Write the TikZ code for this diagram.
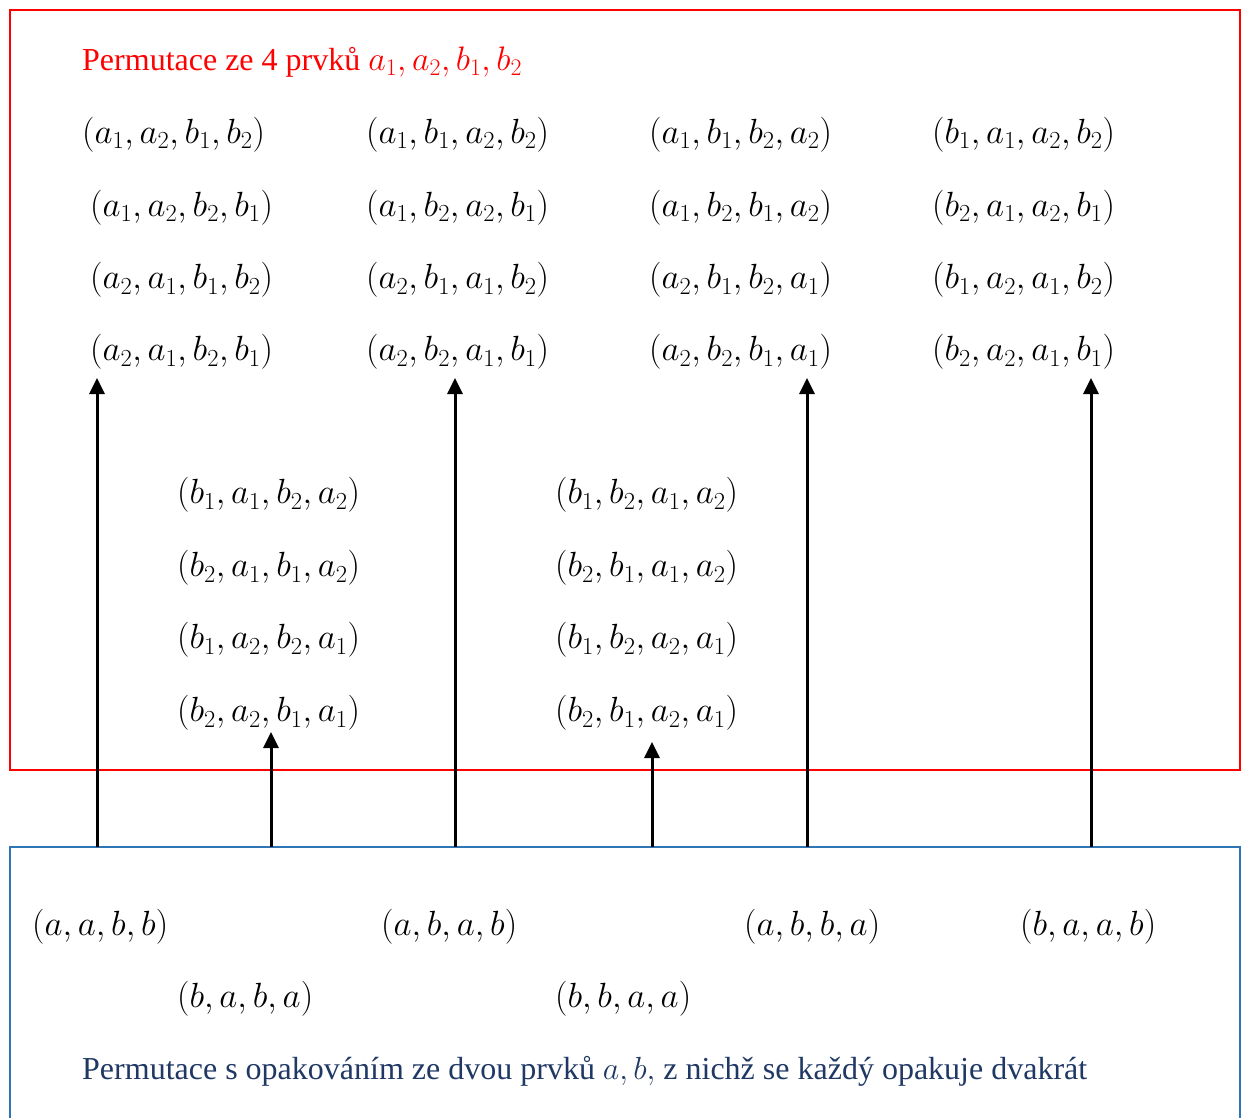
\RequirePackage{fix-cm}
\documentclass[tikz,border=0pt]{standalone}
\usepackage{fontspec}
\setmainfont{Liberation Serif}
\usetikzlibrary{arrows.meta}
\definecolor{boxblue}{HTML}{2E75B6}
\definecolor{txtblue}{HTML}{1F3864}
\tikzset{
  perm/.style={anchor=west, inner sep=0pt, font=\fontsize{35}{40}\selectfont},
  lbl/.style={anchor=west, inner sep=0pt, font=\fontsize{32}{38}\selectfont},
  arr/.style={line width=3pt, -{Triangle[width=15pt,length=16pt]}},
}
\begin{document}
\begin{tikzpicture}[x=1pt,y=-1pt]
\useasboundingbox (0,0) rectangle (1246,1118);
% boxes
\draw[red, line width=2pt] (10,10) rectangle (1240,770);
\draw[boxblue, line width=2pt] (10,1118) -- (10,847) -- (1240,847) -- (1240,1118);
% title
\node[lbl, text=red] (title) at (82,62) {Permutace ze 4 prvků {\fontsize{34}{38}\selectfont$a_1, a_2, b_1, b_2$}};
% top grid
\node[perm] (r1c1) at (82,135) {$(a_1, a_2, b_1, b_2)$};
\node[perm] (r1c2) at (366,135) {$(a_1, b_1, a_2, b_2)$};
\node[perm] (r1c3) at (649,135) {$(a_1, b_1, b_2, a_2)$};
\node[perm] (r1c4) at (932,135) {$(b_1, a_1, a_2, b_2)$};
\node[perm] (r2c1) at (90,208) {$(a_1, a_2, b_2, b_1)$};
\node[perm] (r2c2) at (366,208) {$(a_1, b_2, a_2, b_1)$};
\node[perm] (r2c3) at (649,208) {$(a_1, b_2, b_1, a_2)$};
\node[perm] (r2c4) at (932,208) {$(b_2, a_1, a_2, b_1)$};
\node[perm] (r3c1) at (90,280) {$(a_2, a_1, b_1, b_2)$};
\node[perm] (r3c2) at (366,280) {$(a_2, b_1, a_1, b_2)$};
\node[perm] (r3c3) at (649,280) {$(a_2, b_1, b_2, a_1)$};
\node[perm] (r3c4) at (932,280) {$(b_1, a_2, a_1, b_2)$};
\node[perm] (r4c1) at (90,352) {$(a_2, a_1, b_2, b_1)$};
\node[perm] (r4c2) at (366,352) {$(a_2, b_2, a_1, b_1)$};
\node[perm] (r4c3) at (649,352) {$(a_2, b_2, b_1, a_1)$};
\node[perm] (r4c4) at (932,352) {$(b_2, a_2, a_1, b_1)$};
% middle grid
\node[perm] (m1c1) at (177,495) {$(b_1, a_1, b_2, a_2)$};
\node[perm] (m1c2) at (555,495) {$(b_1, b_2, a_1, a_2)$};
\node[perm] (m2c1) at (177,568) {$(b_2, a_1, b_1, a_2)$};
\node[perm] (m2c2) at (555,568) {$(b_2, b_1, a_1, a_2)$};
\node[perm] (m3c1) at (177,640) {$(b_1, a_2, b_2, a_1)$};
\node[perm] (m3c2) at (555,640) {$(b_1, b_2, a_2, a_1)$};
\node[perm] (m4c1) at (177,713) {$(b_2, a_2, b_1, a_1)$};
\node[perm] (m4c2) at (555,713) {$(b_2, b_1, a_2, a_1)$};
% bottom
\node[perm] (p1) at (32,927) {$(a, a, b, b)$};
\node[perm] (p2) at (381,927) {$(a, b, a, b)$};
\node[perm] (p3) at (744,927) {$(a, b, b, a)$};
\node[perm] (p4) at (1020,927) {$(b, a, a, b)$};
\node[perm] (p5) at (177,999) {$(b, a, b, a)$};
\node[perm] (p6) at (555,999) {$(b, b, a, a)$};
\node[lbl, text=txtblue] (sub) at (82,1071) {Permutace s opakováním ze dvou prvků $a, b,$ z nichž se každý opakuje dvakrát};
% arrow anchors
\coordinate (s1) at (97,847);   \coordinate (e1) at (97,378);
\coordinate (s2) at (271,847);  \coordinate (e2) at (271,732);
\coordinate (s3) at (455,847);  \coordinate (e3) at (455,378);
\coordinate (s4) at (652,847);  \coordinate (e4) at (652,742);
\coordinate (s5) at (807,847);  \coordinate (e5) at (807,378);
\coordinate (s6) at (1091,847); \coordinate (e6) at (1091,378);
\draw[arr] (s1) -- (e1);
\draw[arr] (s2) -- (e2);
\draw[arr] (s3) -- (e3);
\draw[arr] (s4) -- (e4);
\draw[arr] (s5) -- (e5);
\draw[arr] (s6) -- (e6);
\end{tikzpicture}
\end{document}
